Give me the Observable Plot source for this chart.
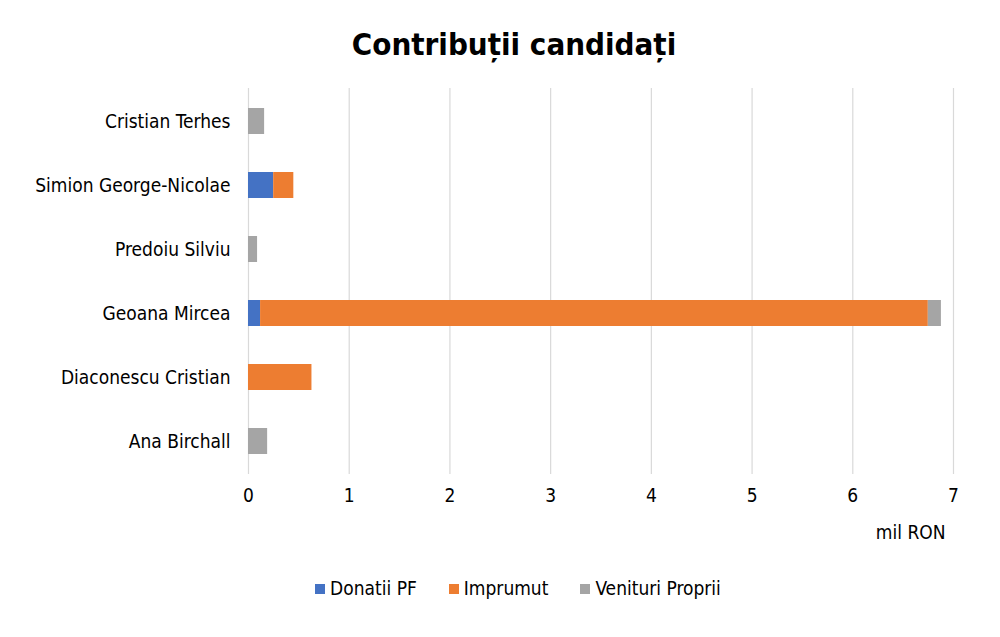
<!DOCTYPE html>
<html>
<head>
<meta charset="utf-8">
<script src="https://cdn.jsdelivr.net/npm/d3@7"></script>
<script src="https://cdn.jsdelivr.net/npm/@observablehq/plot@0.6"></script>
<style>
  body { margin: 0; background: #fff; font-family: "DejaVu Sans Condensed", "DejaVu Sans", sans-serif; }
  #title { height: 70px; padding-top: 26px; box-sizing: border-box; line-height: 36px; text-align: center; font-size: 31px; font-weight: bold; color: #000; padding-left: 28px; }
  #legend { display: flex; justify-content: center; gap: 32px; padding-left: 36px; margin-top: 17px; font-size: 19px; color: #000; }
  #legend span.sw { display: inline-block; width: 10px; height: 10px; margin-right: 5px; vertical-align: 1px; }
</style>
</head>
<body>
<div id="title">Contribuții candidați</div>
<div id="chart"></div>
<div id="legend"></div>
<script>
const candidates = ["Cristian Terhes", "Simion George-Nicolae", "Predoiu Silviu", "Geoana Mircea", "Diaconescu Cristian", "Ana Birchall"];
const series = ["Donatii PF", "Imprumut", "Venituri Proprii"];
const colors = ["#4472C4", "#ED7D31", "#A5A5A5"];
const donatiiPF = [0, 0.25, 0, 0.12, 0, 0];
const imprumut = [0, 0.20, 0, 6.63, 0.63, 0];
const venituriProprii = [0.16, 0, 0.09, 0.13, 0, 0.19];
const xTicks = [0, 1, 2, 3, 4, 5, 6, 7];
const unitLabel = "mil RON";

const valuesBySeries = [donatiiPF, imprumut, venituriProprii];
const rows = [];
series.forEach((s, si) => candidates.forEach((c, ci) => rows.push({candidate: c, series: s, value: valuesBySeries[si][ci]})));

const chart = Plot.plot({
  width: 1000,
  height: 490,
  marginTop: 18,
  marginBottom: 86,
  marginLeft: 248,
  marginRight: 47,
  style: { fontFamily: "DejaVu Sans Condensed, DejaVu Sans, sans-serif", fontSize: "19px", color: "#000" },
  x: { domain: [0, 7], ticks: xTicks, tickFormat: "d", tickSize: 0, tickPadding: 14, label: null },
  y: { domain: candidates, paddingInner: 0.6, paddingOuter: 0.3, tickSize: 0, tickPadding: 18, label: null },
  color: { domain: series, range: colors },
  marks: [
    Plot.ruleX(xTicks, { stroke: "#d9d9d9", strokeWidth: 1.2 }),
    Plot.barX(rows, Plot.stackX({ x: "value", y: "candidate", fill: "series", order: series })),
    Plot.text([unitLabel], { frameAnchor: "bottom-right", dy: 64, dx: -8, text: d => d, fontSize: 19 })
  ]
});
document.getElementById("chart").appendChild(chart);

const legend = document.getElementById("legend");
series.forEach((s, i) => {
  const item = document.createElement("div");
  item.innerHTML = `<span class="sw" style="background:${colors[i]}"></span>${s}`;
  legend.appendChild(item);
});
</script>
</body>
</html>
